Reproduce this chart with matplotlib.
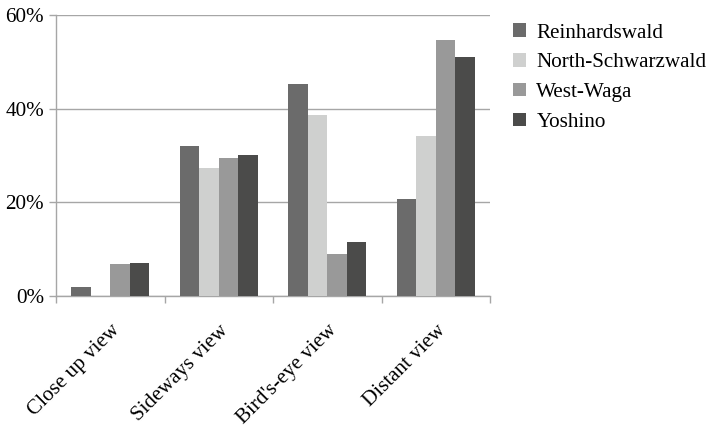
import numpy as np
import matplotlib.pyplot as plt
from matplotlib.ticker import FixedLocator, NullFormatter, PercentFormatter

# Share of photos per viewpoint, by forest
views = ["Close up view", "Sideways view", "Bird's-eye view", "Distant view"]
forests = ["Reinhardswald", "North-Schwarzwald", "West-Waga", "Yoshino"]
reinhardswald = [1.9, 32.0, 45.3, 20.7]
north_schwarzwald = [0.0, 27.3, 38.6, 34.1]
west_waga = [6.8, 29.5, 9.0, 54.6]
yoshino = [7.0, 30.2, 11.6, 51.1]
colors = ["#6b6b6b", "#cfd0cf", "#999999", "#4b4b4a"]

plt.rcParams["font.family"] = ["Liberation Serif", "DejaVu Serif"]
grid_col = "#a6a6a6"
fs = 15.2

fig = plt.figure(figsize=(7.1, 4.28), dpi=100)
ax = fig.add_axes([56 / 710, 1 - 296 / 428, 434 / 710, 281 / 428])

x = np.arange(len(views))
width = 0.18
series = [reinhardswald, north_schwarzwald, west_waga, yoshino]
for i, (name, vals) in enumerate(zip(forests, series)):
    ax.bar(x + (i - 1.5) * width, vals, width, color=colors[i], label=name, zorder=3)

ax.set_xlim(-0.5, len(views) - 0.5)
ax.set_ylim(0, 60)
ax.yaxis.set_major_locator(FixedLocator([0, 20, 40, 60]))
ax.yaxis.set_major_formatter(PercentFormatter(decimals=0))
ax.grid(axis="y", color=grid_col, linewidth=1.0, zorder=0)

# category boundary ticks on the x axis, names centred between them
ax.xaxis.set_major_locator(FixedLocator(np.arange(len(views) + 1) - 0.5))
ax.xaxis.set_major_formatter(NullFormatter())
ax.set_xticks(x, minor=True)
ax.set_xticklabels(views, minor=True, rotation=45, ha="right",
                   rotation_mode="anchor", fontsize=fs)
ax.tick_params(axis="x", which="minor", length=0, pad=18)
ax.tick_params(axis="x", which="major", length=5, color=grid_col, width=1.0)
ax.tick_params(axis="y", length=5, color=grid_col, width=1.0, labelsize=fs, pad=3.5)

for side in ("top", "right"):
    ax.spines[side].set_visible(False)
for side in ("left", "bottom"):
    ax.spines[side].set_color(grid_col)
    ax.spines[side].set_linewidth(1.0)

ax.legend(loc="upper left", bbox_to_anchor=(1.034, 1.0), frameon=False,
          fontsize=fs, handlelength=0.6, handleheight=0.6, handletextpad=0.5,
          labelspacing=0.5, borderaxespad=0)

fig.savefig("out.png", dpi=100)
